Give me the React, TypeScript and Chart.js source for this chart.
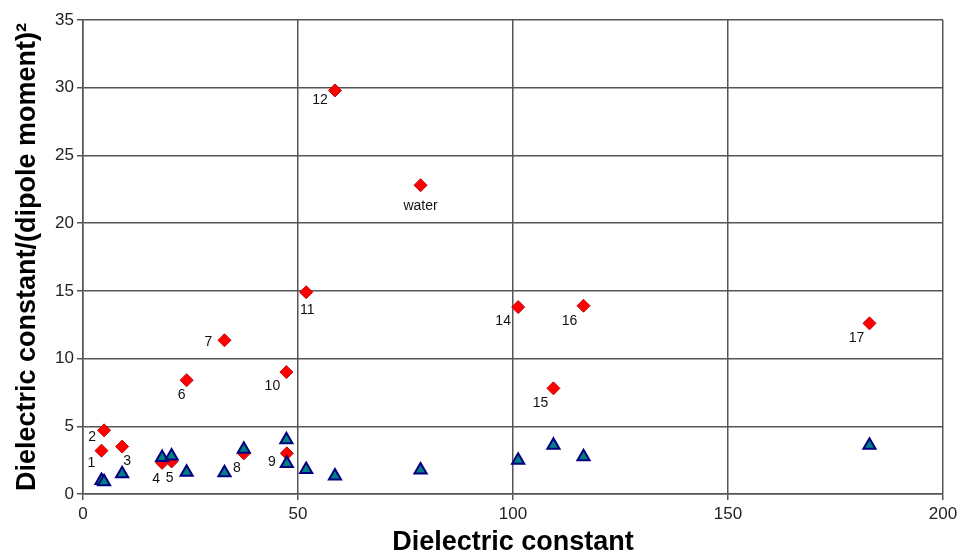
import React, { useEffect, useRef } from 'react';
import { Chart, registerables } from 'chart.js';

Chart.register(...registerables);

// Dielectric constant of each compound (shared x values)
const dielectric = [4.3, 4.9, 9.1, 18.4, 20.6, 24.1, 32.9, 37.4, 47.4, 47.3, 51.9, 58.6, 78.5, 101.2, 109.4, 116.4, 182.9];
// Dielectric constant / (dipole moment)^2  (red diamonds)
const ratioValues = [3.2, 4.7, 3.5, 2.3, 2.4, 8.4, 11.35, 3.0, 3.0, 9.0, 14.9, 29.8, 22.8, 13.8, 7.8, 13.9, 12.6];
// Second series (teal triangles)
const triangleValues = [1.0, 0.9, 1.5, 2.7, 2.8, 1.6, 1.57, 3.3, 2.26, 4.0, 1.8, 1.33, 1.77, 2.5, 3.6, 2.75, 3.6];
// Point labels for the red series
const pointLabels = ['1', '2', '3', '4', '5', '6', '7', '8', '9', '10', '11', '12', 'water', '14', '15', '16', '17'];

// label offsets (styling, in px relative to each point)
const labelDx = [-10, -12, 5, -6, -2, -5, -16, -7, -15, -14, 1, -15, 0, -15, -13, -14, -13];
const labelDy = [12, 7, 15, 16, 17, 15, 2, 15, 9, 14, 18, 10, 21, 14, 15, 15, 15];

const FONT = '"Liberation Sans", Arial, Helvetica, sans-serif';

const labelPlugin = {
  id: 'pointLabelsPlugin',
  afterDatasetsDraw(chart: any) {
    const idx = chart.data.datasets.findIndex((d: any) => d.label === 'ratio');
    const meta = chart.getDatasetMeta(idx);
    const ctx = chart.ctx;
    ctx.save();
    ctx.font = `14px ${FONT}`;
    ctx.fillStyle = '#111';
    ctx.textAlign = 'center';
    ctx.textBaseline = 'middle';
    meta.data.forEach((pt: any, i: number) => {
      ctx.fillText(pointLabels[i], pt.x + labelDx[i], pt.y + labelDy[i]);
    });
    ctx.restore();
  },
};

export default function App() {
  const ref = useRef<HTMLCanvasElement>(null);
  useEffect(() => {
    Chart.defaults.font.family = FONT;
    const gridColor = '#555';
    const chart = new Chart(ref.current as HTMLCanvasElement, {
      type: 'scatter',
      data: {
        datasets: [
          {
            label: 'triangles',
            data: dielectric.map((x, i) => ({ x, y: triangleValues[i] })),
            pointStyle: 'triangle',
            pointRadius: 7,
            backgroundColor: '#008080',
            borderColor: '#000080',
            borderWidth: 2,
            order: 0,
          },
          {
            label: 'ratio',
            data: dielectric.map((x, i) => ({ x, y: ratioValues[i] })),
            pointStyle: 'rectRot',
            pointRadius: 6.5,
            backgroundColor: '#ff0000',
            borderColor: '#c00000',
            borderWidth: 1,
            order: 1,
          },
        ],
      },
      options: {
        responsive: false,
        animation: false,
        devicePixelRatio: 1,
        layout: { padding: { top: 20, right: 19, left: 0, bottom: 0 } },
        plugins: { legend: { display: false }, tooltip: { enabled: false } },
        scales: {
          x: {
            type: 'linear',
            min: 0,
            max: 200,
            ticks: { stepSize: 50, color: '#222', font: { size: 17 }, padding: 4 },
            grid: { color: gridColor, lineWidth: 1.5, tickLength: 6 },
            border: { color: gridColor, width: 1.5 },
            title: {
              display: true,
              text: 'Dielectric constant',
              color: '#000',
              font: { size: 27, weight: 'bold', lineHeight: 1 },
              padding: 0,
            },
            afterFit: (s: any) => { s.height = 62; },
          },
          y: {
            type: 'linear',
            min: 0,
            max: 35,
            ticks: { stepSize: 5, color: '#222', font: { size: 17 }, padding: 3 },
            grid: { color: gridColor, lineWidth: 1.5, tickLength: 6 },
            border: { color: gridColor, width: 1.5 },
            title: {
              display: true,
              text: 'Dielectric constant/(dipole moment)\u00B2',
              color: '#000',
              font: { size: 27, weight: 'bold', lineHeight: 1 },
              padding: { top: 14, bottom: 0 },
            },
            afterFit: (s: any) => { s.width = 83; },
          },
        },
      } as any,
      plugins: [labelPlugin],
    });
    return () => chart.destroy();
  }, []);
  return (
    <div style={{ position: 'absolute', left: 0, top: 0, width: 962, height: 556, background: '#fff' }}>
      <canvas ref={ref} width={962} height={556} style={{ display: 'block', width: 962, height: 556 }} />
    </div>
  );
}
